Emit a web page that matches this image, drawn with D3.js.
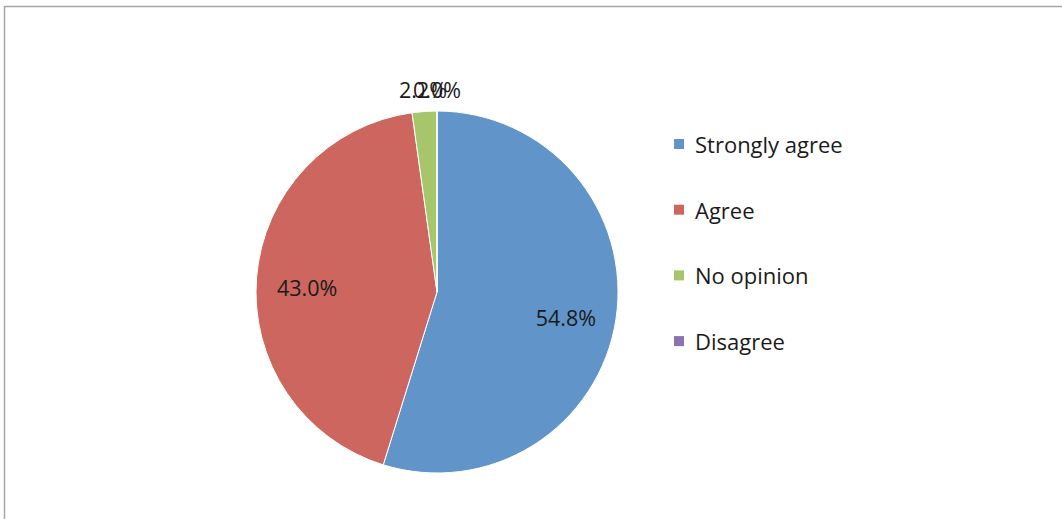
<!DOCTYPE html>
<html>
<head>
<meta charset="utf-8">
<script src="https://d3js.org/d3.v7.min.js"></script>
<style>
body {margin: 0; background: white;}
text {font-family: 'Open Sans', sans-serif;}
</style>
</head>
<body>
<div id="chart"></div>
<script>
// chart data
var categories = ["Strongly agree", "Agree", "No opinion", "Disagree"];
var values = [54.8, 43.0, 2.2, 0.0];
var colors = ["#6194c9", "#cc665f", "#a7c56a", "#8a73ae"];

var width = 1062, height = 519;
var cx = 437, cy = 292, radius = 181;

var svg = d3.select("#chart").append("svg")
    .attr("width", width)
    .attr("height", height);

// chart area frame (runs off the right / bottom edge)
svg.append("rect")
    .attr("x", 4.5).attr("y", 6.5)
    .attr("width", width + 10).attr("height", height + 10)
    .attr("fill", "white")
    .attr("stroke", "#a6a6a6")
    .attr("stroke-width", 1.5);

var pie = d3.pie().sort(null).value(function(d) {return d;});
var arcs = pie(values);

var arc = d3.arc().innerRadius(0).outerRadius(radius);
var inLabel = d3.arc().innerRadius(radius * 0.72).outerRadius(radius * 0.72);
var outLabel = d3.arc().innerRadius(radius + 22).outerRadius(radius + 22);

var g = svg.append("g").attr("transform", "translate(" + cx + "," + cy + ")");

g.selectAll("path")
    .data(arcs)
    .enter()
    .append("path")
    .attr("d", arc)
    .attr("fill", function(d, i) {return colors[i];})
    .attr("stroke", "white")
    .attr("stroke-width", 1);

g.selectAll("text.pct")
    .data(arcs)
    .enter()
    .append("text")
    .attr("class", "pct")
    .attr("transform", function(d) {
        var c = d.data < 5 ? outLabel.centroid(d) : inLabel.centroid(d);
        if (d.data >= 5) c[1] += 6;
        return "translate(" + c + ")";
    })
    .attr("text-anchor", "middle")
    .attr("dominant-baseline", "central")
    .style("font-size", "21.5px")
    .style("fill", "#1a1a1a")
    .text(function(d) {return d.data.toFixed(1) + "%";});

// legend
var legend = svg.append("g").attr("transform", "translate(674,144)");
var rows = legend.selectAll("g")
    .data(categories)
    .enter()
    .append("g")
    .attr("transform", function(d, i) {return "translate(0," + (i * 65.7) + ")";});

rows.append("rect")
    .attr("x", 0).attr("y", -5)
    .attr("width", 10).attr("height", 10)
    .attr("fill", function(d, i) {return colors[i];});

rows.append("text")
    .attr("x", 21).attr("y", 0)
    .attr("dominant-baseline", "central")
    .style("font-size", "22px")
    .style("fill", "#1a1a1a")
    .text(function(d) {return d;});
</script>
</body>
</html>
